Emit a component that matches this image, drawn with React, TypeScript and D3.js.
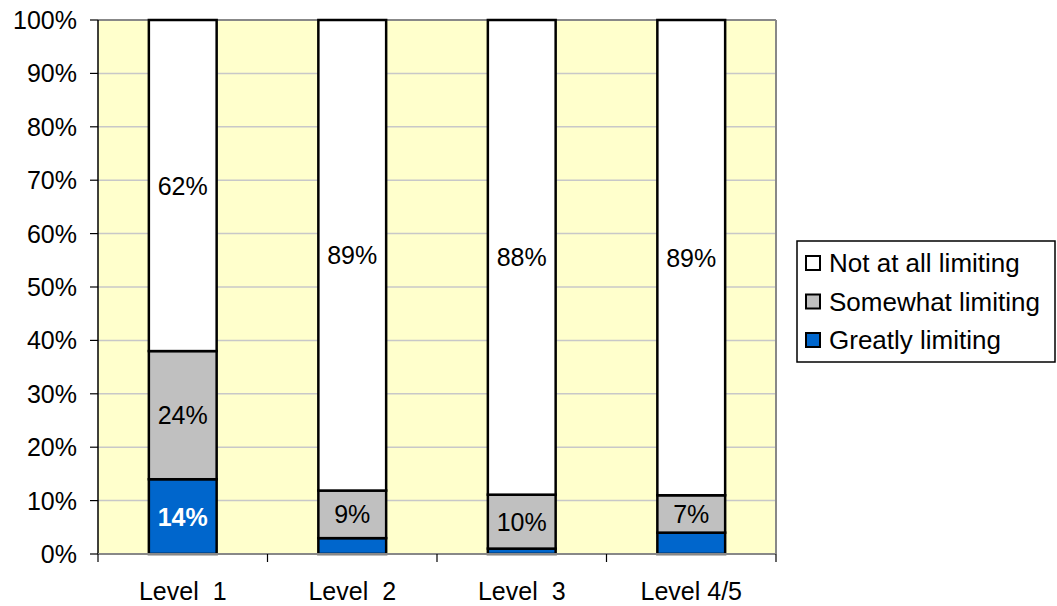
import React from "react";
import * as d3 from "d3";

const categories = ["Level  1", "Level  2", "Level  3", "Level 4/5"];
const seriesNames = ["Greatly limiting", "Somewhat limiting", "Not at all limiting"];
const greatly = [14, 3, 1, 4];
const somewhat = [24, 9, 10, 7];
const notAtAll = [62, 89, 88, 89];
const yTicks = [0, 10, 20, 30, 40, 50, 60, 70, 80, 90, 100];
const colors = ["#0066cc", "#c0c0c0", "#ffffff"];
const showLabel = [[true, false, false, false], [true, true, true, true], [true, true, true, true]];

export default function App() {
  const W = 1057, H = 606;
  const left = 98, right = 776, top = 20, bottom = 554;
  const x = d3.scaleBand().domain(categories).range([left, right]).paddingInner(0.6).paddingOuter(0.3);
  const y = d3.scaleLinear().domain([0, 100]).range([bottom, top]);
  const rows = categories.map((c, i) => {
    const vals = [greatly[i], somewhat[i], notAtAll[i]];
    const tot = d3.sum(vals);
    const obj: any = { cat: c };
    seriesNames.forEach((s, k) => (obj[s] = (vals[k] / tot) * 100));
    obj.raw = vals;
    return obj;
  });
  const stack = d3.stack<any>().keys(seriesNames)(rows);
  const step = (right - left) / categories.length;
  const font = "'Liberation Sans', Arial, sans-serif";
  const fs = 25;
  return (
    <svg width={W} height={H} style={{ position: "absolute", left: 0, top: 0 }} fontFamily={font}>
      <rect x={left} y={top} width={right - left} height={bottom - top} fill="#ffffcc" />
      {yTicks.slice(1, -1).map((t) => (
        <line key={t} x1={left} x2={right} y1={y(t)} y2={y(t)} stroke="#c8c8c8" strokeWidth={1.5} />
      ))}
      <line x1={left} x2={right} y1={top} y2={top} stroke="#888" strokeWidth={2} />
      <line x1={right} x2={right} y1={top} y2={bottom} stroke="#888" strokeWidth={2} />
      {stack.map((layer, k) =>
        layer.map((d, i) => (
          <rect key={k + "-" + i} x={x(categories[i])!} width={x.bandwidth()} y={y(d[1])} height={y(d[0]) - y(d[1])}
            fill={colors[k]} stroke="#000" strokeWidth={2.5} />
        ))
      )}
      {stack.map((layer, k) =>
        layer.map((d, i) =>
          showLabel[k][i] ? (
            <text key={"l" + k + "-" + i} x={x(categories[i])! + x.bandwidth() / 2} y={y((d[0] + d[1]) / 2)}
              dy="0.36em" textAnchor="middle" fontSize={fs} fill={k === 0 ? "#fff" : "#000"} fontWeight={k === 0 ? "bold" : "normal"}>
              {rows[i].raw[k]}%
            </text>
          ) : null
        )
      )}
      <line x1={left} x2={left} y1={top} y2={bottom} stroke="#000" strokeWidth={1.5} />
      <line x1={left} x2={right} y1={bottom} y2={bottom} stroke="#888" strokeWidth={2} />
      {yTicks.map((t) => (
        <g key={"yt" + t}>
          <line x1={left - 8} x2={left} y1={y(t)} y2={y(t)} stroke="#000" strokeWidth={1.2} />
          <text x={left - 21} y={y(t)} dy="0.36em" textAnchor="end" fontSize={fs}>{t}%</text>
        </g>
      ))}
      {d3.range(categories.length + 1).map((i) => (
        <line key={"xt" + i} x1={left + i * step} x2={left + i * step} y1={bottom} y2={bottom + 8} stroke="#000" strokeWidth={1.2} />
      ))}
      {categories.map((c) => (
        <text key={c} x={x(c)! + x.bandwidth() / 2} y={591} dy="0.36em" textAnchor="middle" fontSize={fs} style={{ whiteSpace: "pre" }}>{c}</text>
      ))}
      <rect x={797} y={241} width={258} height={121} fill="#fff" stroke="#000" strokeWidth={1.5} />
      {[...seriesNames].reverse().map((s, j) => {
        const k = seriesNames.length - 1 - j;
        const cy = 263 + j * 38.5;
        return (
          <g key={s}>
            <rect x={806} y={cy - 7} width={14} height={14} fill={colors[k]} stroke="#000" strokeWidth={2} />
            <text x={829} y={cy} dy="0.36em" fontSize={26}>{s}</text>
          </g>
        );
      })}
    </svg>
  );
}
